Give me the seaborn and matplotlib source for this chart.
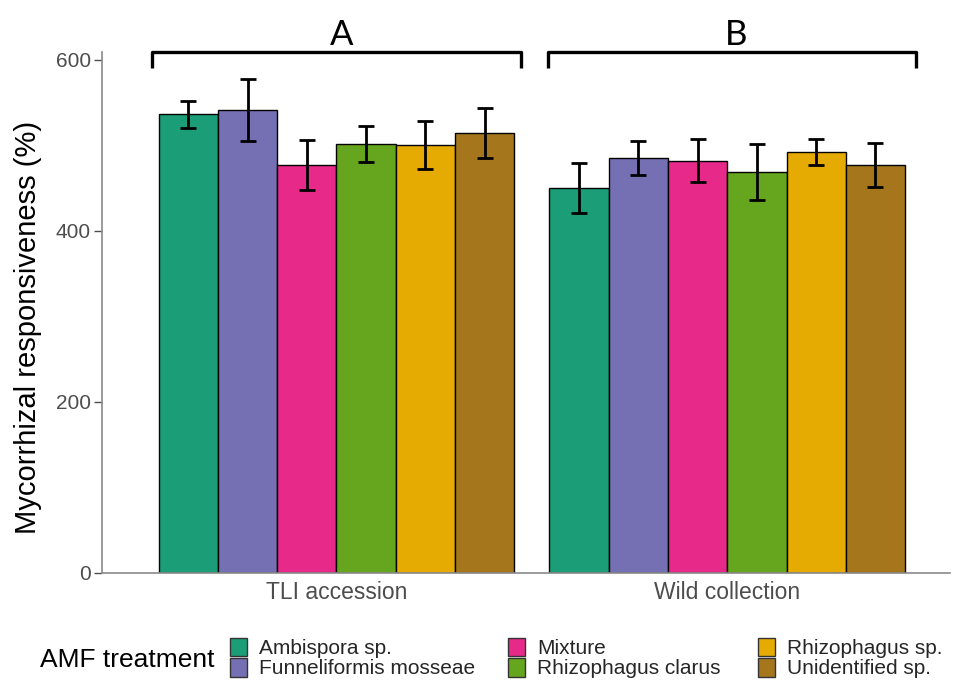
import matplotlib
matplotlib.use("Agg")
import matplotlib.pyplot as plt
import seaborn as sns
import pandas as pd
import numpy as np
from matplotlib.patches import Patch

groups = ["TLI accession", "Wild collection"]
treatments = ["Ambispora sp.", "Funneliformis mosseae", "Mixture",
              "Rhizophagus clarus", "Rhizophagus sp.", "Unidentified sp."]
tli_mean = [536, 541, 477, 501, 500, 514]
tli_err = [16, 36, 29, 21, 28, 29]
wild_mean = [450, 485, 482, 469, 492, 477]
wild_err = [29, 20, 25, 33, 15, 26]
group_letters = ["A", "B"]
colors = ["#1B9E77", "#7570B3", "#E7298A", "#66A61E", "#E6AB02", "#A6761D"]

df = pd.DataFrame({
    "group": [groups[0]] * 6 + [groups[1]] * 6,
    "treatment": treatments * 2,
    "mean": tli_mean + wild_mean,
    "err": tli_err + wild_err,
})

sns.set_theme(style="white")
plt.rcParams["font.family"] = ["Liberation Sans", "DejaVu Sans"]

fig = plt.figure(figsize=(9.54, 6.8), dpi=100)
ax = fig.add_axes([102 / 954, (680 - 573) / 680, (950 - 102) / 954, (573 - 52) / 680])

sns.barplot(data=df, x="group", y="mean", hue="treatment", order=groups,
            hue_order=treatments, palette=colors, errorbar=None, width=0.91,
            edgecolor="black", linewidth=1.0, ax=ax, saturation=1, legend=False)

# error bars from bar patches
bars = sorted([p for p in ax.patches if p.get_height() > 0], key=lambda p: p.get_x())
ordered = df.assign(gi=df["group"].map({g: i for i, g in enumerate(groups)})) \
            .sort_values(["gi"], kind="stable")
for p, (_, row) in zip(bars, ordered.iterrows()):
    xc = p.get_x() + p.get_width() / 2
    ax.errorbar(xc, row["mean"], yerr=row["err"], fmt="none", ecolor="black",
                elinewidth=2, capsize=6, capthick=2, zorder=5)

ax.set_xlim(-0.6, 1.57)
ax.set_ylim(0, 609)
ax.set_yticks([0, 200, 400, 600])
ax.set_xlabel("")
ax.set_ylabel("Mycorrhizal responsiveness (%)", fontsize=21, color="black")
ax.yaxis.set_label_coords(-0.071, 0.472)
ax.tick_params(axis="y", colors="#4d4d4d", labelsize=15, length=6, width=1,
               left=True, pad=2)
ax.tick_params(axis="x", colors="#4d4d4d", labelsize=16.5, bottom=False, pad=0)
for s in ["top", "right"]:
    ax.spines[s].set_visible(False)
for s in ["left", "bottom"]:
    ax.spines[s].set_color("#8a8a8a")
    ax.spines[s].set_linewidth(1.2)

# brackets with letters
offsets = [(-0.471, 0.473), (-0.459, 0.482)]
for i, letter in enumerate(group_letters):
    x0, x1 = i + offsets[i][0], i + offsets[i][1]
    y_top, y_low = 609, 590
    ax.plot([x0, x0, x1, x1], [y_low, y_top, y_top, y_low], color="black",
            lw=2.4, clip_on=False, solid_capstyle="butt")
    ax.text((x0 + x1) / 2 + 0.012, 610, letter, ha="center", va="bottom", fontsize=25,
            family=["Lato", "DejaVu Sans"], color="black", clip_on=False)

# legend: three columns placed separately
col_x = [230, 508, 758]
for c in range(3):
    idx = [2 * c, 2 * c + 1]
    handles = [Patch(facecolor=colors[k], edgecolor="#333333", linewidth=1) for k in idx]
    leg = fig.legend(handles, [treatments[k] for k in idx], loc="center left",
                     bbox_to_anchor=(col_x[c] / 954, 1 - 658 / 680), frameon=False,
                     fontsize=15, handlelength=0.8, handleheight=1.0,
                     handletextpad=0.6, labelspacing=0.0, borderaxespad=0,
                     borderpad=0)
fig.text(40 / 954, 1 - 660 / 680, "AMF treatment", fontsize=19, va="center",
         ha="left", color="black")

fig.savefig("out.png", dpi=100)
